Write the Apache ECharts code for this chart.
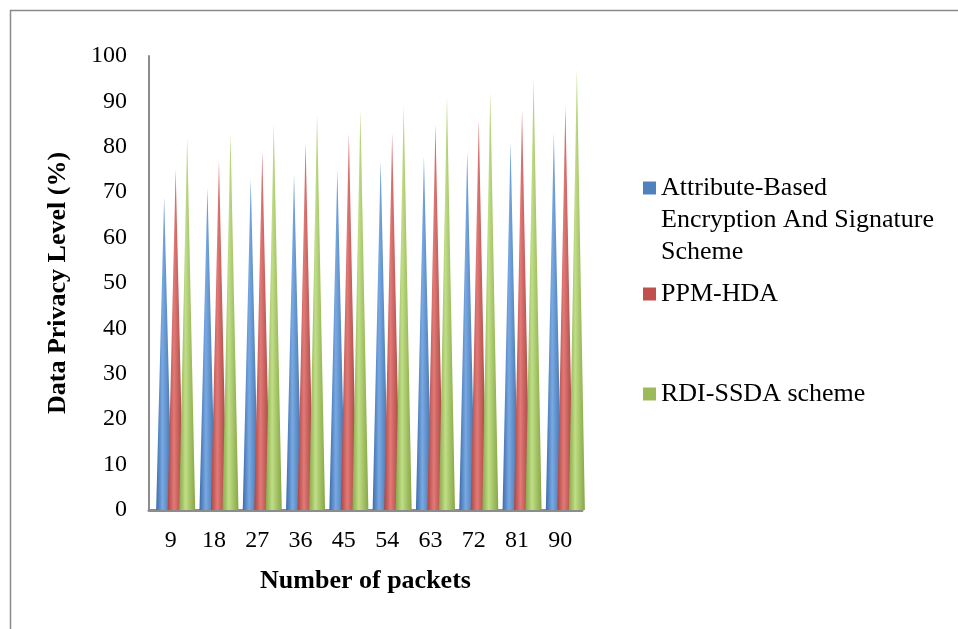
<!DOCTYPE html>
<html>
<head>
<meta charset="utf-8">
<script src="https://cdn.jsdelivr.net/npm/echarts@6/dist/echarts.min.js"></script>
<style>
  html, body { margin: 0; padding: 0; background: #ffffff; }
  #chart { width: 958px; height: 629px; }
</style>
</head>
<body>
<div id="chart"></div>
<script>
document.addEventListener('DOMContentLoaded', function () {

    // data
    const packets = ['9', '18', '27', '36', '45', '54', '63', '72', '81', '90'];
    const seriesNames = [
        'Attribute-Based Encryption And Signature Scheme',
        'PPM-HDA',
        'RDI-SSDA scheme'
    ];
    const abeValues = [69, 71, 73, 74, 75, 77, 78, 79, 81, 83];
    const ppmValues = [75, 77, 79, 81, 83, 83, 85, 86, 88, 89];
    const rdiValues = [82, 83, 85, 87, 88, 89, 91, 92, 95, 97];

    const baseColors = ['#4f81bd', '#c0504d', '#9bbb59'];
    const font = 'Liberation Serif, Times New Roman, serif';

    // cone shading: dark edge, highlight, dark edge
    function cone(c0, c1, c2) {
        return {
            type: 'linear', x: 0, y: 0, x2: 1, y2: 0,
            colorStops: [
                { offset: 0, color: c0 },
                { offset: 0.4, color: c1 },
                { offset: 1, color: c2 }
            ]
        };
    }

    function coneSeries(name, values, fill) {
        return {
            name: name,
            type: 'pictorialBar',
            symbol: 'triangle',
            symbolSize: ['100%', '100%'],
            symbolOffset: [5, 0],
            barWidth: 16,
            barGap: '-28%',
            itemStyle: { color: fill },
            data: values
        };
    }

    function legendAt(i, top) {
        return {
            data: [{ name: seriesNames[i], itemStyle: { color: baseColors[i] } }],
            orient: 'vertical',
            left: 643,
            top: top,
            padding: 0,
            icon: 'rect',
            itemWidth: 13,
            itemHeight: 13,
            textStyle: {
                fontFamily: font,
                fontSize: 26,
                lineHeight: 32,
                color: '#000'
            },
            formatter: function (n) {
                // two blank lines on top keep the first line level with the key
                return n === seriesNames[0]
                    ? '\n\nAttribute-Based\nEncryption And Signature\nScheme'
                    : n;
            }
        };
    }

    const chart = echarts.init(document.getElementById('chart'));

    const option = {
        animation: false,
        color: baseColors,
        graphic: [{
            type: 'rect',
            left: 8,
            top: 8,
            shape: { width: 1100, height: 800 },
            style: { fill: 'none', stroke: '#8a8a8a', lineWidth: 1.5 },
            silent: true
        }],
        legend: [
            legendAt(0, 108),
            legendAt(1, 278),
            legendAt(2, 378)
        ],
        grid: {
            left: 149,
            right: 376,
            top: 56,
            bottom: 119
        },
        xAxis: {
            type: 'category',
            data: packets,
            name: 'Number of packets',
            nameLocation: 'middle',
            nameGap: 58,
            nameTextStyle: {
                fontFamily: font, fontSize: 26, fontWeight: 'bold', color: '#000'
            },
            axisLine: { lineStyle: { color: '#8c8c8c', width: 3 } },
            axisTick: { show: false },
            axisLabel: {
                fontFamily: font, fontSize: 24, color: '#000', margin: 19
            }
        },
        yAxis: {
            type: 'value',
            min: 0,
            max: 100,
            interval: 10,
            name: 'Data Privacy Level (%)',
            nameLocation: 'middle',
            nameGap: 78,
            nameTextStyle: {
                fontFamily: font, fontSize: 26, fontWeight: 'bold', color: '#000'
            },
            axisLine: { show: true, lineStyle: { color: '#8c8c8c', width: 2 } },
            axisTick: { show: false },
            splitLine: { show: false },
            axisLabel: {
                fontFamily: font, fontSize: 24, color: '#000', margin: 22
            }
        },
        series: [
            coneSeries(seriesNames[0], abeValues, cone('#3c6daa', '#78a9e3', '#3f6ea6')),
            coneSeries(seriesNames[1], ppmValues, cone('#ad4542', '#e27a77', '#a03e3b')),
            coneSeries(seriesNames[2], rdiValues, cone('#87a84a', '#c0de86', '#86a646'))
        ]
    };

    chart.setOption(option);
});
</script>
</body>
</html>
